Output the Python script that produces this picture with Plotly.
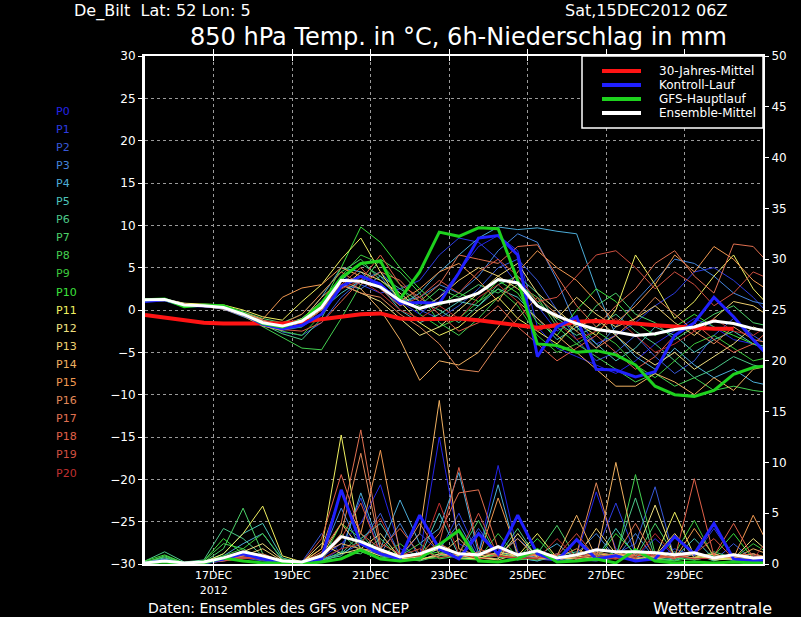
"""
    GFS ensemble plume for De Bilt: 850 hPa temperature and 6h precipitation
"""

##########==========##########==========##########==========##########==========
## INITIALIZE ENVIRONMENT

## libraries
import pandas as pd
import plotly.graph_objects as go

## parameters
params = {
    'font'   : 'DejaVu Sans',
    'width'  : 801, 'height' : 617,
    'left'   : 145, 'right'  : 763,
    'top'    : 56,  'bottom' : 564,
    'grid'   : '#9a9a9a',
}

##########==========##########==========##########==========##########==========
## DATA (read off the plume, 12-hourly from the 15DEC2012 06Z run)

times = pd.date_range('2012-12-15 06:00', periods = 33, freq = '12h')
x_end = '2012-12-31 00:00'

tick_dates = ['2012-12-17', '2012-12-19', '2012-12-21', '2012-12-23',
              '2012-12-25', '2012-12-27', '2012-12-29']
tick_text  = ['17DEC<br>2012', '19DEC', '21DEC', '23DEC',
              '25DEC', '27DEC', '29DEC']

members = ['P%d' % i for i in range(21)]
member_colors = [
    '#2424e8', '#2c3ce0', '#3858d8', '#4484dc', '#4cacd8', '#4cc4bc',
    '#4cc888', '#4cd068', '#44d050', '#3cc83c', '#3ce03c', '#f0f060',
    '#f0e080', '#f0d070', '#f0b060', '#f09850', '#e08858', '#e07050',
    '#e06048', '#d05040', '#c03030',
]

main_names  = ['30-Jahres-Mittel', 'Kontroll-Lauf', 'GFS-Hauptlauf',
               'Ensemble-Mittel']
main_colors = ['#ff1414', '#2020ff', '#1ed21e', 'white']

## 850 hPa temperature, main lines
t_clim    = [-0.6, -0.9, -1.2, -1.5, -1.6, -1.6, -1.7, -1.6, -1.4, -1.1, -0.8,
             -0.5, -0.4, -1.0, -1.1, -1.0, -1.0, -1.2, -1.5, -1.9, -2.1, -1.8,
             -1.4, -1.3, -1.4, -1.6, -1.8, -2.0, -2.1, -2.2, -2.2]
t_control = [1.0, 1.2, 0.5, 0.5, 0.3, -0.5, -1.7, -2.2, -1.8, -0.5, 2.8, 4.0,
             3.0, 0.8, 0.9, 0.8, 4.4, 8.5, 8.8, 6.5, -5.5, -2.0, -0.8, -7.0,
             -7.1, -7.9, -7.3, -3.0, -1.5, 1.5, -0.8, -3.5, -6.0]
t_gfs     = [1.2, 1.3, 0.4, 0.6, 0.5, -0.4, -1.6, -2.0, -1.2, 0.8, 3.8, 5.5,
             5.8, 1.3, 4.5, 9.2, 8.7, 9.7, 9.6, 3.5, -4.0, -4.2, -5.0, -4.8,
             -5.3, -6.5, -9.0, -10.0, -10.2, -9.5, -7.6, -6.8, -6.5]
t_mean    = [1.2, 1.25, 0.6, 0.5, 0.3, -0.5, -1.5, -1.9, -1.3, 0.3, 3.5, 3.4,
             2.7, 1.1, 0.2, 0.8, 1.2, 2.0, 3.6, 3.2, 0.5, -0.7, -1.6, -2.3,
             -2.6, -3.0, -2.8, -2.3, -2.0, -1.3, -1.6, -2.2, -2.6]

## 850 hPa temperature, ensemble members
t_p0  = [1.1, 1.2, 0.6, 0.4, 0.2, -0.6, -1.8, -2.4, -2.0, -0.5, 2.5, 4.0, 3.2, 1.0, -0.5, 1.5, 4.5, 7.5, 8.8, 7.0, -2.0, -4.5, -5.5, -6.5, -7.5, -6.0, -4.0, -2.5, -1.0, -2.0, -3.5, -4.0, -5.0]
t_p1  = [1.2, 1.3, 0.7, 0.5, 0.3, -0.4, -1.5, -2.1, -1.0, 1.0, 4.0, 3.0, 2.0, 2.5, 3.5, 6.5, 8.5, 8.0, 6.0, 3.0, 0.5, -2.5, -1.0, -4.0, -3.0, -1.5, 0.5, 2.0, 4.5, 5.0, 3.5, 1.5, -1.0]
t_p2  = [1.0, 1.1, 0.5, 0.6, 0.4, -0.3, -1.2, -2.6, -3.0, -1.5, 1.5, 3.5, 4.5, 2.0, 0.0, -1.0, 0.5, 2.5, 5.0, 6.0, 3.5, 0.0, -3.5, -6.0, -5.0, -3.0, -5.5, -7.5, -6.0, -3.0, -1.0, -3.0, -4.5]
t_p3  = [1.3, 1.2, 0.8, 0.5, 0.1, -0.8, -1.6, -2.0, -1.5, 0.5, 3.0, 2.5, 4.0, 1.0, 1.5, 3.0, 2.0, 4.0, 7.0, 9.0, 8.0, 3.5, -2.0, -4.5, -2.0, 1.0, 3.5, 6.0, 5.5, 4.0, 2.0, 1.0, 0.5]
t_p4  = [1.2, 1.3, 0.6, 0.5, 0.2, -0.5, -1.3, -1.7, -1.2, 1.5, 5.0, 4.5, 2.5, 0.5, 2.0, 4.5, 6.5, 8.5, 9.8, 9.5, 9.7, 9.3, 9.0, 2.5, -3.0, -5.5, -7.0, -4.5, -6.5, -8.0, -7.0, -8.5, -9.0]
t_p5  = [1.1, 1.2, 0.5, 0.4, 0.4, -0.3, -1.4, -2.2, -1.8, 0.0, 2.0, 3.5, 2.8, 0.0, -1.5, -0.5, 1.0, 0.5, 2.5, 1.5, -1.0, -3.5, -2.0, -4.0, -6.0, -4.5, -2.0, -3.0, -5.0, -3.5, -2.5, -4.0, -4.5]
t_p6  = [1.2, 1.1, 0.6, 0.6, 0.3, -0.5, -1.7, -2.8, -3.5, -1.0, 3.5, 5.5, 4.0, 2.5, 1.0, 0.0, -1.5, 0.5, 3.0, 4.0, 2.0, -1.5, -3.0, -2.0, -0.5, -2.5, -4.0, -6.0, -8.0, -7.0, -5.5, -6.5, -7.0]
t_p7  = [1.1, 1.2, 0.7, 0.5, 0.5, -0.2, -1.0, -1.5, -0.5, 2.0, 4.5, 6.0, 3.5, 1.5, 0.5, 2.5, 1.5, 3.0, 2.0, 3.5, 1.0, -1.0, -2.5, 0.5, 2.0, -0.5, -1.5, -3.5, -2.0, -0.5, 0.5, -1.5, -2.0]
t_p8  = [1.2, 1.3, 0.6, 0.4, 0.2, -0.7, -2.0, -3.2, -4.5, -4.7, -1.0, 3.0, 6.0, 4.5, 2.0, -1.5, -3.0, -1.0, 1.5, 3.0, 1.5, -2.0, -4.0, -5.5, -7.0, -8.5, -7.5, -9.0, -8.0, -9.5, -9.0, -9.5, -9.8]
t_p9  = [1.0, 1.1, 0.5, 0.5, 0.3, -0.6, -1.8, -2.5, -3.0, -0.5, 4.0, 6.5, 5.5, 3.0, -0.5, -2.0, -1.0, 1.0, 2.5, 0.5, -3.0, -5.0, -4.0, -2.5, -4.0, -6.5, -8.0, -6.0, -4.0, -3.0, -4.5, -6.0, -5.5]
t_p10 = [1.3, 1.2, 0.7, 0.6, 0.4, -0.4, -1.4, -2.3, -2.0, 0.5, 5.0, 9.8, 8.0, 5.0, 2.5, 0.5, 2.0, 1.0, 3.5, 2.0, -1.5, -3.0, 0.0, 2.5, 1.0, -1.5, -3.0, -2.0, -0.5, -2.0, -3.0, -4.0, -5.0]
t_p11 = [1.2, 1.3, 0.8, 0.7, 0.6, 0.0, -0.8, -1.2, 1.0, 3.0, 6.0, 8.5, 4.5, 1.0, -1.5, -3.0, -2.0, 0.0, 1.5, -1.0, -2.5, -4.0, -1.5, -3.0, 0.0, 6.5, 3.0, -1.0, 1.0, 4.0, 6.5, 2.5, 0.0]
t_p12 = [1.1, 1.2, 0.6, 0.5, 0.4, -0.4, -1.3, -1.8, -1.0, 1.0, 3.0, 2.0, 1.0, -1.0, -3.0, -2.0, 0.0, 2.0, 4.0, 5.5, 2.0, 0.0, -2.0, -1.0, -3.0, -5.0, -6.5, -5.0, -7.0, -5.5, -4.0, -2.0, -3.0]
t_p13 = [1.2, 1.1, 0.5, 0.6, 0.2, -0.5, -1.6, -2.0, -1.5, 0.0, 2.5, 4.5, 3.5, 2.0, 0.0, 1.5, 3.5, 5.0, 4.0, 2.5, 0.5, -1.0, 1.5, -0.5, -2.0, -1.0, 0.5, -1.5, -3.0, -1.0, 1.0, 0.5, -1.0]
t_p14 = [1.1, 1.2, 0.7, 0.4, 0.1, -0.7, -1.9, -2.4, -1.2, 1.5, 3.5, 2.5, 0.0, -3.5, -8.3, -6.0, -6.5, -5.0, -2.0, 1.0, -1.0, -3.0, -5.0, -7.0, -9.0, -9.0, -7.5, -8.5, -10.0, -8.0, -9.5, -7.0, -6.5]
t_p15 = [1.2, 1.3, 0.6, 0.5, 0.3, -0.3, -1.1, 1.5, 2.6, 3.0, 5.0, 4.0, 3.0, 1.0, 2.5, 4.5, 5.5, 3.5, 1.0, 4.5, 7.0, 5.0, 3.5, 1.0, -1.5, 0.5, 3.0, 6.5, 4.5, 7.5, 6.0, 3.5, 2.0]
t_p16 = [1.0, 1.1, 0.6, 0.5, 0.3, -0.6, -1.5, -2.0, -1.5, 0.5, 3.0, 2.0, 1.5, -0.5, -2.0, -4.0, -7.0, -7.3, -4.0, -1.0, 1.5, -0.5, -2.5, -4.5, -3.0, -1.0, 1.5, -0.5, -2.5, -4.0, -2.0, -3.5, -4.0]
t_p17 = [1.2, 1.2, 0.7, 0.5, 0.4, -0.4, -1.2, -1.6, -0.5, 2.0, 4.5, 3.0, 4.5, 3.5, 1.0, 3.0, 6.5, 6.0, 5.5, 7.5, 7.7, 4.0, 0.5, -2.0, 0.5, 2.5, 5.5, 7.0, 4.0, 2.0, 7.8, 7.5, 5.0]
t_p18 = [1.1, 1.2, 0.5, 0.4, 0.2, -0.6, -1.7, -2.3, -2.5, -1.5, 1.0, 3.5, 6.5, 3.0, 1.5, -0.5, -2.5, -1.5, 0.5, -2.0, -4.0, -6.0, -4.5, -3.0, -5.0, -7.0, -5.5, -3.0, -1.5, -3.5, -5.0, -4.0, -2.0]
t_p19 = [1.2, 1.3, 0.7, 0.5, 0.3, -0.5, -1.6, -2.1, -1.8, 0.0, 3.0, 5.0, 2.5, 0.5, 1.5, 3.5, 2.0, 4.5, 6.0, 4.0, 1.0, 1.5, 4.0, 6.5, 7.0, 5.0, 2.5, 4.5, 3.0, 0.5, 2.0, 4.5, 3.5]
t_p20 = [1.1, 1.2, 0.6, 0.5, 0.3, -0.5, -1.5, -2.0, -1.4, 0.5, 2.5, 3.5, 2.0, 0.0, -1.0, 0.5, -1.0, 1.5, 3.0, 1.0, -2.5, -1.5, -3.5, -2.5, -1.0, -3.0, -5.0, -4.0, -2.5, -1.0, -2.5, -3.0, -1.5]

## 6h precipitation, main lines
p_control = [0.1, 0.3, 0.0, 0.1, 0.5, 1.0, 0.5, 0.2, 0.1, 0.5, 7.3, 2.0, 1.0,
             0.5, 4.8, 1.5, 0.5, 3.0, 1.0, 4.8, 1.0, 0.3, 2.4, 0.5, 0.8, 0.3,
             0.5, 2.7, 1.0, 4.0, 0.5, 0.3, 0.5]
p_gfs     = [0.1, 0.2, 0.0, 0.1, 0.6, 0.3, 0.1, 0.1, 0.0, 0.2, 0.5, 1.4, 0.5,
             0.3, 0.5, 1.9, 3.3, 0.3, 0.2, 0.5, 1.4, 0.2, 0.3, 0.5, 0.1, 1.4,
             0.3, 0.1, 0.2, 0.1, 0.2, 0.1, 0.1]
p_mean    = [0.1, 0.3, 0.1, 0.2, 0.6, 1.2, 0.8, 0.3, 0.2, 0.8, 2.7, 2.2, 1.4,
             0.7, 1.0, 1.7, 1.0, 0.9, 1.7, 0.9, 1.3, 0.6, 0.9, 1.4, 1.2, 1.2,
             1.1, 0.9, 1.1, 0.6, 0.9, 0.6, 0.7]

## 6h precipitation, ensemble members
p_p0  = [0.1, 0.4, 0.0, 0.1, 0.3, 0.8, 0.4, 0.1, 0.0, 0.6, 2.0, 4.0, 7.8, 1.5, 0.8, 12.5, 2.0, 1.0, 9.7, 1.2, 0.5, 0.3, 0.8, 7.1, 1.5, 0.6, 2.5, 0.8, 0.4, 1.0, 0.3, 0.5, 0.6]
p_p1  = [0.2, 0.3, 0.1, 0.0, 0.4, 1.0, 0.6, 0.2, 0.1, 0.3, 1.5, 6.5, 1.0, 0.6, 3.0, 1.2, 5.0, 0.8, 1.5, 0.6, 0.3, 1.0, 0.5, 1.2, 6.0, 1.0, 0.5, 1.5, 0.8, 3.5, 0.6, 0.3, 0.5]
p_p2  = [0.1, 0.2, 0.0, 0.1, 0.5, 0.6, 0.3, 0.1, 0.2, 3.0, 1.0, 2.0, 5.0, 0.8, 0.5, 2.0, 0.6, 3.5, 0.8, 0.4, 1.2, 0.2, 0.6, 0.8, 1.0, 2.0, 7.6, 0.5, 1.2, 0.3, 2.0, 0.4, 0.3]
p_p3  = [0.0, 0.3, 0.1, 0.2, 0.6, 1.2, 0.8, 0.2, 0.1, 0.8, 5.5, 1.5, 1.0, 4.0, 0.6, 1.5, 4.0, 0.5, 1.0, 2.5, 0.8, 0.4, 1.0, 3.0, 0.6, 3.0, 0.5, 1.2, 0.4, 0.8, 0.5, 1.0, 0.4]
p_p4  = [0.1, 0.5, 0.0, 0.1, 0.8, 2.0, 3.0, 0.4, 0.2, 0.5, 1.0, 7.0, 1.5, 6.3, 2.0, 3.5, 9.0, 1.0, 7.8, 0.6, 0.8, 2.0, 0.4, 0.3, 0.6, 1.0, 0.5, 0.3, 1.0, 0.4, 0.6, 0.3, 1.2]
p_p5  = [0.2, 0.6, 0.1, 0.2, 1.0, 3.0, 4.0, 0.6, 0.1, 0.4, 0.8, 2.5, 4.0, 1.0, 0.6, 5.0, 0.8, 0.5, 1.2, 0.6, 0.3, 0.8, 1.2, 0.5, 3.5, 0.8, 0.3, 0.6, 2.5, 0.5, 0.4, 0.8, 0.6]
p_p6  = [0.3, 1.2, 0.2, 0.4, 3.5, 2.5, 0.8, 0.3, 0.1, 0.2, 1.0, 3.0, 0.8, 0.5, 0.4, 1.0, 0.6, 0.5, 0.8, 3.5, 0.5, 0.6, 0.3, 1.2, 0.8, 6.5, 0.6, 0.4, 1.0, 0.3, 0.8, 0.5, 0.4]
p_p7  = [0.1, 0.8, 0.1, 0.2, 1.5, 5.5, 1.0, 0.2, 0.1, 0.3, 1.2, 1.0, 2.5, 0.6, 0.3, 0.8, 1.0, 4.3, 0.6, 0.8, 1.0, 3.8, 0.5, 0.4, 1.0, 0.6, 4.0, 0.8, 0.5, 1.2, 0.6, 0.3, 0.8]
p_p8  = [0.2, 0.7, 0.0, 0.3, 2.0, 1.5, 0.5, 0.2, 0.1, 0.4, 3.0, 1.2, 0.6, 0.8, 2.0, 0.5, 0.8, 0.6, 1.0, 0.4, 0.6, 0.5, 2.5, 0.8, 0.5, 8.8, 1.0, 0.6, 0.4, 0.8, 0.5, 0.6, 0.4]
p_p9  = [0.1, 0.4, 0.1, 0.2, 0.8, 1.5, 3.0, 0.5, 0.2, 0.2, 0.6, 1.5, 0.8, 2.0, 0.5, 0.6, 1.0, 0.5, 3.0, 0.6, 0.4, 0.8, 0.6, 0.5, 1.2, 0.4, 0.8, 1.0, 4.3, 0.6, 0.5, 2.0, 0.8]
p_p10 = [0.3, 0.9, 0.1, 0.3, 2.5, 1.0, 0.4, 0.1, 0.0, 0.3, 4.0, 2.5, 1.0, 0.6, 0.8, 1.2, 0.5, 0.4, 1.0, 0.6, 2.5, 0.5, 0.8, 0.4, 3.0, 1.0, 0.5, 0.3, 0.6, 0.8, 3.0, 0.5, 1.0]
p_p11 = [0.1, 0.3, 0.0, 0.2, 1.0, 3.0, 5.7, 0.8, 0.2, 1.5, 12.7, 2.0, 1.0, 0.5, 0.8, 1.5, 0.6, 0.5, 1.2, 0.8, 3.0, 0.6, 0.5, 1.0, 0.8, 1.2, 0.6, 5.1, 0.8, 0.5, 0.6, 1.0, 0.5]
p_p12 = [0.0, 0.2, 0.1, 0.1, 0.6, 1.2, 2.0, 0.4, 0.1, 2.0, 1.0, 1.5, 3.0, 0.6, 0.4, 1.0, 0.8, 0.6, 0.5, 3.0, 0.6, 0.4, 0.8, 0.5, 0.6, 1.0, 5.8, 0.6, 1.0, 0.4, 0.5, 2.5, 0.8]
p_p13 = [0.1, 0.3, 0.0, 0.1, 0.4, 0.8, 1.5, 0.3, 0.1, 0.8, 4.0, 1.5, 0.8, 1.0, 0.5, 0.8, 2.5, 0.6, 0.4, 1.0, 0.8, 0.5, 0.6, 3.5, 1.0, 0.5, 0.8, 3.0, 0.6, 1.0, 0.4, 0.6, 0.5]
p_p14 = [0.1, 0.2, 0.0, 0.1, 0.3, 0.6, 0.8, 0.2, 0.1, 1.0, 2.0, 1.5, 1.2, 0.8, 3.0, 16.1, 1.5, 0.8, 1.0, 0.6, 1.2, 0.8, 4.8, 0.6, 10.0, 1.2, 0.5, 0.8, 0.6, 1.0, 0.5, 1.5, 0.8]
p_p15 = [0.1, 0.3, 0.0, 0.2, 0.5, 1.0, 0.6, 0.2, 0.1, 1.5, 7.0, 3.0, 11.2, 1.0, 0.8, 2.0, 1.0, 0.6, 6.5, 1.0, 0.8, 0.6, 1.5, 0.5, 1.0, 0.8, 1.2, 0.5, 3.5, 0.8, 0.6, 4.8, 1.0]
p_p16 = [0.0, 0.2, 0.1, 0.1, 0.4, 0.6, 0.5, 0.1, 0.0, 0.8, 3.0, 10.9, 1.5, 0.8, 4.0, 1.0, 0.6, 1.2, 0.8, 2.5, 0.5, 0.6, 1.0, 8.0, 1.2, 0.6, 0.8, 1.0, 0.5, 0.6, 1.0, 0.5, 0.6]
p_p17 = [0.1, 0.3, 0.0, 0.2, 0.6, 0.8, 1.0, 0.3, 0.1, 1.2, 4.0, 13.2, 2.0, 1.0, 0.8, 3.0, 7.0, 7.3, 1.5, 0.8, 0.6, 1.0, 0.5, 1.2, 0.8, 4.0, 0.6, 0.8, 1.2, 0.5, 0.8, 1.0, 0.5]
p_p18 = [0.1, 0.2, 0.1, 0.1, 0.5, 0.7, 0.4, 0.2, 0.1, 2.5, 8.8, 3.0, 1.5, 3.5, 1.0, 2.0, 9.5, 1.5, 0.8, 0.6, 1.0, 0.5, 0.8, 1.0, 0.6, 0.8, 1.0, 0.5, 8.4, 0.8, 4.0, 0.6, 0.5]
p_p19 = [0.0, 0.2, 0.0, 0.1, 0.3, 0.5, 0.8, 0.2, 0.1, 0.6, 2.5, 6.0, 1.0, 0.8, 1.5, 0.6, 1.0, 5.0, 0.8, 0.5, 0.6, 0.8, 3.0, 0.6, 0.5, 1.0, 0.8, 0.6, 1.0, 2.5, 0.5, 0.8, 0.6]
p_p20 = [0.1, 0.2, 0.0, 0.1, 0.4, 0.6, 0.5, 0.1, 0.0, 0.5, 1.5, 2.0, 4.5, 0.6, 0.8, 6.0, 1.0, 0.5, 0.8, 0.6, 0.5, 2.5, 0.6, 0.8, 0.5, 0.6, 3.0, 0.8, 0.5, 0.6, 0.8, 0.5, 3.0]

temp_members = [t_p0, t_p1, t_p2, t_p3, t_p4, t_p5, t_p6, t_p7, t_p8, t_p9,
                t_p10, t_p11, t_p12, t_p13, t_p14, t_p15, t_p16, t_p17,
                t_p18, t_p19, t_p20]
prec_members = [p_p0, p_p1, p_p2, p_p3, p_p4, p_p5, p_p6, p_p7, p_p8, p_p9,
                p_p10, p_p11, p_p12, p_p13, p_p14, p_p15, p_p16, p_p17,
                p_p18, p_p19, p_p20]

##########==========##########==========##########==========##########==========
## DEFINE BASIC DRAWING FUNCTIONS


def px(x, y):
    """
        Convert window pixels into paper coordinates of the plot area
    """
    w = params['right'] - params['left']
    h = params['bottom'] - params['top']
    return (x - params['left']) / w, (params['bottom'] - y) / h


def add_text(text, x, y, size, anchor = 'left', color = 'white'):
    xp, yp = px(x, y)
    fig.add_annotation(
        x = xp, y = yp, xref = 'paper', yref = 'paper', text = text,
        xanchor = anchor, yanchor = 'middle', showarrow = False,
        font = dict(family = params['font'], size = size, color = color)
        )


def add_segment(x0, y0, x1, y1, color, width):
    (a, b), (c, d) = px(x0, y0), px(x1, y1)
    fig.add_shape(
        type = 'line', xref = 'paper', yref = 'paper',
        x0 = a, y0 = b, x1 = c, y1 = d,
        line = dict(color = color, width = width)
        )


def draw_background():
    """
        Draw basic plot layout
    """
    global fig
    fig = go.Figure()
    axis_common = dict(
        showline = True, linecolor = 'white', tickcolor = 'white',
        zeroline = False, tickfont = dict(size = 12, color = 'white'),
        )
    fig.update_layout(
        width = params['width'], height = params['height'],
        margin = dict(
            l = params['left'], r = params['width'] - params['right'],
            t = params['top'], b = params['height'] - params['bottom'],
            pad = 0),
        paper_bgcolor = 'black', plot_bgcolor = 'black',
        font = dict(family = params['font'], color = 'white', size = 11),
        hovermode = False, showlegend = False,
        xaxis = dict(
            axis_common, type = 'date', range = [times[0], x_end],
            tickvals = tick_dates, ticktext = tick_text,
            tickfont = dict(size = 11, color = 'white'),
            ticks = 'inside', ticklen = 5, mirror = 'allticks', linewidth = 2,
            showgrid = True, gridcolor = params['grid'], griddash = 'dot',
            gridwidth = 1,
            ),
        yaxis = dict(
            axis_common, range = [-30, 30], dtick = 5, tick0 = 0,
            ticks = 'outside', ticklen = 4, linewidth = 3,
            showgrid = True, gridcolor = params['grid'], griddash = 'dot',
            gridwidth = 1,
            ),
        yaxis2 = dict(
            axis_common, overlaying = 'y', side = 'right',
            range = [0, 50], dtick = 5, tick0 = 0,
            ticks = 'outside', ticklen = 4, linewidth = 2, showgrid = False,
            ),
        )


def draw_line(y, name, color, width, axis = 'y'):
    fig.add_trace(go.Scatter(
        x = times[:len(y)], y = y, mode = 'lines', name = name, yaxis = axis,
        line = dict(color = color, width = width),
        ))

##########==========##########==========##########==========##########==========
## DEFINE COMPOSITE DRAWING FUNCTIONS


def draw_members():
    for name, color, t, p in zip(members, member_colors,
                                 temp_members, prec_members):
        draw_line(t, name, color, 1)
        draw_line(p, name, color, 1, axis = 'y2')


def draw_main_lines():
    red, blue, green, white = main_colors
    draw_line(t_clim, main_names[0], red, 4)
    draw_line(t_control, main_names[1], blue, 3)
    draw_line(p_control, main_names[1], blue, 3, axis = 'y2')
    draw_line(t_gfs, main_names[2], green, 3)
    draw_line(p_gfs, main_names[2], green, 3, axis = 'y2')
    draw_line(t_mean, main_names[3], white, 3)
    draw_line(p_mean, main_names[3], white, 3, axis = 'y2')


def draw_key():
    ## boxed key in the top right corner
    (a, b), (c, d) = px(582, 56), px(763, 128)
    fig.add_shape(
        type = 'rect', xref = 'paper', yref = 'paper',
        x0 = a, y0 = d, x1 = c, y1 = b, fillcolor = 'black',
        line = dict(color = 'white', width = 1.5)
        )
    for i, (name, color) in enumerate(zip(main_names, main_colors)):
        y = 71 + i * 14
        add_segment(602, y, 641, y, color, 4)
        add_text(name, 657, y, 12)


def draw_labels():
    ## header and footer
    add_text('De_Bilt  Lat: 52 Lon: 5', 72, 11, 16)
    add_text('Sat,15DEC2012 06Z', 729, 11, 16, anchor = 'right')
    add_text('850 hPa Temp. in °C, 6h-Niederschlag in mm', 729, 37, 24,
             anchor = 'right')
    add_text('Daten: Ensembles des GFS von NCEP', 146, 608, 14)
    add_text('Wetterzentrale', 774, 608, 16, anchor = 'right')

    ## member colour key
    for i, (name, color) in enumerate(zip(members, member_colors)):
        add_text(name, 54, 111 + i * 18.1, 11, color = color)

##########==========##########==========##########==========##########==========
## EXECUTE FUNCTIONS

if __name__ == '__main__':

    draw_background()
    draw_members()
    draw_main_lines()
    draw_key()
    draw_labels()

    ## write figure to disk
    fig.write_html(
        'out.html', config = {'displayModeBar': False},
        post_script = "document.body.style.margin = '0';")

##########==========##########==========##########==========##########==========
